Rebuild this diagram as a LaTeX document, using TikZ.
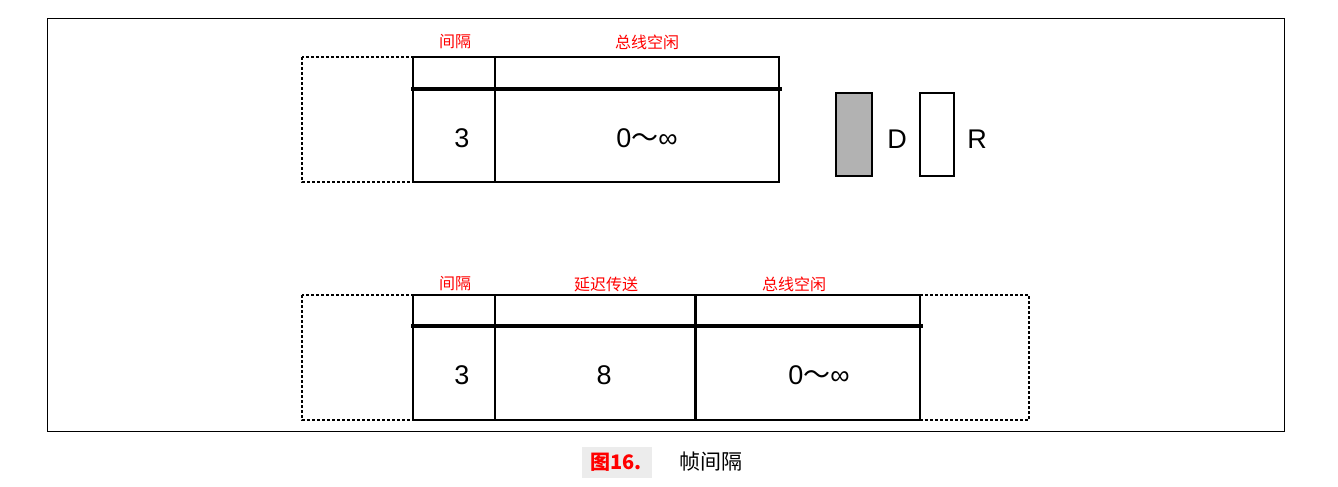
\documentclass[tikz,border=0pt]{standalone}
\usepackage{fontspec}
\setmainfont{Liberation Sans}
\newfontfamily\cjk{Noto Sans CJK SC}
\tikzset{
 frame/.style={draw, line width=1.3pt},
 dotbox/.style={draw, dash pattern=on 3pt off 2pt, line width=1.5pt},
 thick bar/.style={line width=4pt},
 lab/.style={text=red, font=\cjk\fontsize{16}{16}\selectfont},
 num/.style={font=\fontsize{27}{27}\selectfont}
}
\newcommand{\tld}{{\cjk ～}}
\begin{document}
\begin{tikzpicture}[x=1pt,y=-1pt]
\useasboundingbox (0,0) rectangle (1338,487);
\draw[line width=0.9pt] (47,18) rectangle (1284,431);
% top
\draw[dotbox] (302,57) rectangle (413,182);
\draw[frame] (413,57) rectangle (779,182);
\draw[frame] (495,57) -- (495,182);
\coordinate (t1) at (411,89); \coordinate (t2) at (782,89);
\draw[thick bar] (t1) -- (t2);
\node[lab] (l1) at (455,42) {间隔};
\node[lab] (l2) at (647,42) {总线空闲};
\node[num] (n1) at (462,138) {3};
\node[num] (n2) at (647,138) {0\tld∞};
\draw[line width=1.2pt, fill=gray!60] (836,93) rectangle (872,176);
\node[num] (d) at (897,139) {D};
\draw[line width=1.2pt] (920,93) rectangle (954,176);
\node[num] (r) at (977,139) {R};
% bottom
\draw[dotbox] (302,295) rectangle (413,420);
\draw[dotbox] (920,295) rectangle (1029,420);
\draw[frame] (413,295) rectangle (920,420);
\draw[frame] (495,295) -- (495,420);
\draw[line width=3pt] (695,295) -- (695,420);
\coordinate (b1) at (411,326); \coordinate (b2) at (923,326);
\draw[thick bar] (b1) -- (b2);
\node[lab] (l3) at (455,284) {间隔};
\node[lab] (l4) at (606,284) {延迟传送};
\node[lab] (l5) at (794,284) {总线空闲};
\node[num] (n3) at (462,375) {3};
\node[num] (n4) at (604,375) {8};
\node[num] (n5) at (819,375) {0\tld∞};
% caption
\fill[gray!15] (582,447) rectangle (652,478);
\node[text=red, font=\cjk\bfseries\fontsize{20}{20}\selectfont] (c1) at (616,462) {图16.};
\node[font=\cjk\fontsize{21}{21}\selectfont] (c2) at (711,462) {帧间隔};
\end{tikzpicture}
\end{document}
